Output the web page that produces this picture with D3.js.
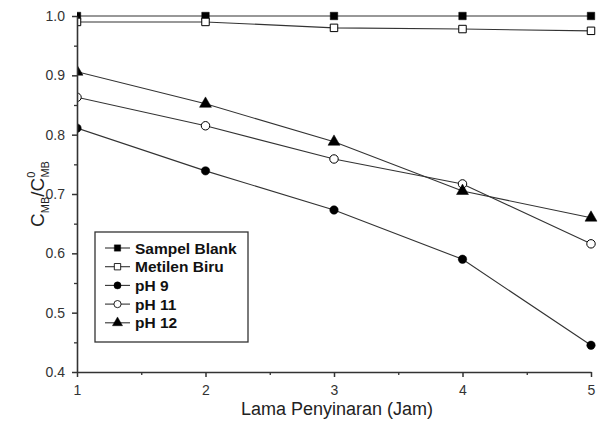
<!DOCTYPE html>
<html>
<head>
<meta charset="utf-8">
<script src="https://cdn.jsdelivr.net/npm/d3@7"></script>
<style>
  body { margin: 0; background: #fff; }
  svg { font-family: "Liberation Sans", Arial, sans-serif; }
</style>
</head>
<body>
<div id="chart"></div>
<script>
const width = 605,
  height = 423,
  margin = { top: 16, bottom: 51, left: 77, right: 14 };

// data
const hours = [1, 2, 3, 4, 5];
const sampelBlank = [1.0, 1.0, 1.0, 1.0, 1.0];
const metilenBiru = [0.99, 0.99, 0.98, 0.978, 0.975];
const ph9 = [0.811, 0.739, 0.673, 0.590, 0.445];
const ph11 = [0.863, 0.815, 0.759, 0.717, 0.616];
const ph12 = [0.906, 0.852, 0.788, 0.705, 0.660];
const yTicks = [0.4, 0.5, 0.6, 0.7, 0.8, 0.9, 1.0];

const series = [
  { name: "Sampel Blank", values: sampelBlank, shape: "square", fill: "#000" },
  { name: "Metilen Biru", values: metilenBiru, shape: "square", fill: "#fff" },
  { name: "pH 9", values: ph9, shape: "circle", fill: "#000" },
  { name: "pH 11", values: ph11, shape: "circle", fill: "#fff" },
  { name: "pH 12", values: ph12, shape: "triangle", fill: "#000" }
];

const xScale = d3.scaleLinear().domain([1, 5]).range([margin.left, width - margin.right]);
const yScale = d3.scaleLinear().domain([0.4, 1.0]).range([height - margin.bottom, margin.top]);

const svg = d3.select("#chart").append("svg")
  .attr("width", width)
  .attr("height", height);

// markers on the y axis get cut in half, like the original
svg.append("clipPath")
  .attr("id", "plot-clip")
  .append("rect")
  .attr("x", margin.left)
  .attr("y", 0)
  .attr("width", width - margin.left)
  .attr("height", height);

const symbolFor = shape => {
  if (shape === "square") return d3.symbol().type(d3.symbolSquare).size(56)();
  if (shape === "circle") return d3.symbol().type(d3.symbolCircle).size(56)();
  return d3.symbol().type(d3.symbolTriangle).size(62)();
};

// minor ticks
const xMinor = d3.axisBottom(xScale).tickValues([1.5, 2.5, 3.5, 4.5]).tickSize(3).tickFormat("");
const yMinor = d3.axisLeft(yScale).tickValues([0.45, 0.55, 0.65, 0.75, 0.85, 0.95]).tickSize(3).tickFormat("");

svg.append("g")
  .attr("transform", `translate(0,${height - margin.bottom})`)
  .call(xMinor)
  .call(g => g.select(".domain").remove())
  .selectAll("line").attr("stroke", "#333").attr("stroke-width", 1.3);

svg.append("g")
  .attr("transform", `translate(${margin.left},0)`)
  .call(yMinor)
  .call(g => g.select(".domain").remove())
  .selectAll("line").attr("stroke", "#333").attr("stroke-width", 1.3);

// data lines and markers
const line = d3.line()
  .x((d, i) => xScale(hours[i]))
  .y(d => yScale(d));

const plot = svg.append("g").attr("clip-path", "url(#plot-clip)");

series.forEach(s => {
  plot.append("path")
    .datum(s.values)
    .attr("fill", "none")
    .attr("stroke", "#333")
    .attr("stroke-width", 1.1)
    .attr("d", line);
});

series.forEach(s => {
  plot.selectAll(null)
    .data(s.values)
    .join("path")
    .attr("transform", (d, i) => `translate(${xScale(hours[i])},${yScale(d)})`)
    .attr("d", symbolFor(s.shape))
    .attr("fill", s.fill)
    .attr("stroke", "#000")
    .attr("stroke-width", s.fill === "#fff" ? 1 : 0.5);
});

const xAxis = d3.axisBottom(xScale).tickValues(hours).tickSize(5).tickSizeOuter(0).tickFormat(d3.format("d"));
const yAxis = d3.axisLeft(yScale).tickValues(yTicks).tickSize(5).tickSizeOuter(0).tickFormat(d3.format(".1f"));

const gx = svg.append("g")
  .attr("transform", `translate(0,${height - margin.bottom})`)
  .call(xAxis);
gx.select(".domain").attr("stroke", "#333").attr("stroke-width", 1.6);
gx.selectAll("line").attr("stroke", "#333").attr("stroke-width", 1.5);
gx.selectAll("text").attr("font-size", 14).attr("fill", "#333").attr("dy", "1.05em");

const gy = svg.append("g")
  .attr("transform", `translate(${margin.left},0)`)
  .call(yAxis);
gy.select(".domain").attr("stroke", "#333").attr("stroke-width", 1.6);
gy.selectAll("line").attr("stroke", "#333").attr("stroke-width", 1.5);
gy.selectAll("text").attr("font-size", 14).attr("fill", "#333").attr("x", -12);

// axis titles
svg.append("text")
  .attr("x", 337)
  .attr("y", 415)
  .attr("text-anchor", "middle")
  .attr("font-size", 18)
  .attr("fill", "#222")
  .text("Lama Penyinaran (Jam)");

const yLabel = svg.append("text")
  .attr("transform", `translate(44,${yScale(0.7)}) rotate(-90)`)
  .attr("text-anchor", "middle")
  .attr("font-size", 19)
  .attr("fill", "#222");
yLabel.append("tspan").text("C");
yLabel.append("tspan").attr("font-size", 11).attr("dy", 5).text("MB");
yLabel.append("tspan").attr("dy", -5).text("/C");
yLabel.append("tspan").attr("font-size", 11).attr("dy", -9).text("0");
yLabel.append("tspan").attr("font-size", 11).attr("dx", -6).attr("dy", 14).text("MB");

// legend
const legend = svg.append("g").attr("transform", "translate(95,232)");
legend.append("rect")
  .attr("width", 153)
  .attr("height", 110)
  .attr("fill", "#fff")
  .attr("stroke", "#333")
  .attr("stroke-width", 1.3);

series.forEach((s, i) => {
  const y = 16 + i * 18.7;
  legend.append("line")
    .attr("x1", 10).attr("x2", 35)
    .attr("y1", y).attr("y2", y)
    .attr("stroke", "#333").attr("stroke-width", 1.1);
  legend.append("path")
    .attr("d", symbolFor(s.shape))
    .attr("fill", s.fill)
    .attr("stroke", "#000")
    .attr("stroke-width", s.fill === "#fff" ? 1 : 0.5)
    .attr("transform", `translate(22.5,${y}) scale(0.85)`);
  legend.append("text")
    .attr("x", 40)
    .attr("y", y)
    .attr("dy", "0.36em")
    .attr("font-size", 15.5)
    .attr("font-weight", "bold")
    .attr("fill", "#111")
    .text(s.name);
});
</script>
</body>
</html>
